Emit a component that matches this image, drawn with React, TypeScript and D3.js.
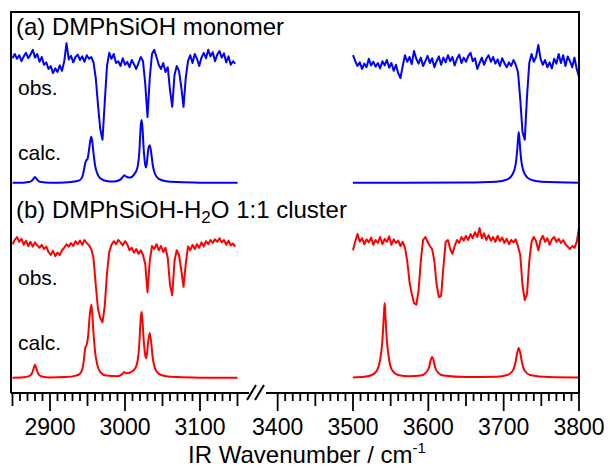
import React, { useEffect, useRef } from 'react'
import * as d3 from 'd3'

// wavenumber grids of the observed traces (3 cm-1 step)
const obsLeftStart = 2850
const obsRightStart = 3500
const obsStep = 3

// (a) monomer, observed, 2850-3147
const obsA_left = [
  0.03, 0.10, 0.02, 0.08, -0.02, 0.06, 0.12, 0.03, 0.09, 0.17,
  0.04, 0.10, -0.03, 0.05, -0.08, -0.04, -0.15, -0.10, -0.22, -0.14,
  -0.20, -0.09, -0.18, -0.02, 0.28, 0.01, 0.07, -0.04, 0.05, 0.09,
  0.00, 0.06, -0.03, 0.08, 0.02, 0.05, -0.04, -0.30, -0.75, -1.15,
  -1.33, -0.70, -0.10, 0.12, 0.02, 0.10, -0.05, -0.02, -0.10, 0.03,
  -0.08, -0.03, -0.12, 0.00, -0.07, -0.15, -0.05, 0.05, -0.02, -0.40,
  -0.95, -0.30, 0.10, 0.17, 0.05, -0.08, -0.15, -0.05, -0.20, -0.12,
  -0.50, -0.78, -0.25, -0.10, -0.18, -0.45, -0.78, -0.30, -0.02, 0.08,
  -0.05, 0.10, 0.02, -0.10, 0.04, 0.12, 0.03, 0.17, 0.06, 0.13,
  -0.02, 0.09, 0.15, 0.04, 0.11, -0.04, 0.06, -0.08, -0.02, -0.06
]

// (a) monomer, observed, 3500-3800
const obsA_right = [
  0.08, -0.02, -0.10, -0.04, -0.15, -0.06, -0.12, 0.02, -0.09, -0.03,
  -0.11, -0.05, -0.14, -0.02, -0.09, 0.00, -0.13, -0.05, -0.18, -0.08,
  -0.22, -0.30, -0.10, 0.08, -0.03, 0.05, -0.07, 0.15, 0.02, -0.06,
  0.04, -0.10, -0.02, 0.07, -0.05, 0.03, -0.12, -0.02, 0.06, -0.08,
  0.04, -0.04, 0.08, -0.02, 0.05, -0.09, 0.02, 0.09, -0.05, 0.04,
  -0.03, 0.07, 0.12, -0.02, 0.03, -0.15, -0.05, 0.04, -0.08, 0.02,
  0.08, -0.03, 0.05, -0.06, 0.01, -0.10, 0.03, -0.05, -0.12, -0.04,
  -0.10, 0.00, -0.08, -0.20, -0.65, -1.20, -1.33, -0.60, -0.05, 0.10,
  -0.03, 0.05, 0.25, 0.02, -0.08, 0.00, -0.12, -0.04, -0.14, 0.02,
  -0.06, 0.10, -0.05, 0.08, -0.10, 0.06, -0.02, -0.12, 0.04, -0.15,
  -0.28
]

// (b) 1:1 cluster, observed, 2850-3147
const obsB_left = [
  -0.02, 0.05, 0.10, 0.02, 0.07, -0.03, 0.04, -0.05, 0.02, -0.06,
  0.01, -0.04, -0.08, -0.03, -0.10, -0.06, -0.15, -0.20, -0.13, -0.22,
  -0.16, -0.20, -0.12, -0.08, -0.02, -0.06, 0.00, -0.05, 0.03, -0.02,
  0.04, -0.03, 0.05, 0.00, -0.04, -0.10, -0.25, -0.70, -1.10, -1.25,
  -1.32, -1.05, -0.50, -0.15, -0.03, 0.03, -0.02, 0.05, 0.01, -0.04,
  0.03, -0.02, -0.12, -0.08, -0.16, -0.10, -0.18, -0.12, -0.20, -0.35,
  -0.82, -0.30, -0.05, -0.10, -0.02, -0.12, -0.05, -0.15, -0.08, -0.25,
  -0.70, -0.87, -0.30, -0.12, -0.20, -0.45, -0.73, -0.35, -0.06, -0.12,
  -0.03, -0.10, -0.02, -0.08, 0.01, -0.06, 0.03, -0.02, 0.05, 0.00,
  0.06, 0.02, 0.08, 0.01, 0.05, -0.03, 0.04, -0.04, -0.01, -0.06
]

// (b) 1:1 cluster, observed, 3500-3800
const obsB_right = [
  -0.12, 0.03, 0.15, 0.02, 0.08, -0.02, 0.06, 0.01, 0.09, -0.03,
  0.05, 0.00, 0.10, -0.02, 0.07, 0.02, 0.11, -0.03, 0.06, 0.00,
  0.04, -0.05, 0.02, -0.08, -0.30, -0.65, -0.85, -1.00, -1.03, -0.80,
  -0.30, 0.05, 0.10, 0.02, -0.05, -0.10, -0.30, -0.70, -0.90, -0.88,
  -0.40, 0.02, 0.05, -0.10, -0.18, -0.05, 0.05, 0.00, 0.10, 0.04,
  0.12, 0.05, 0.15, 0.08, 0.18, 0.10, 0.25, 0.08, 0.16, 0.05,
  0.13, 0.04, 0.10, 0.02, 0.12, 0.03, 0.09, 0.00, 0.07, -0.02,
  0.05, 0.01, 0.06, -0.05, -0.20, -0.70, -0.95, -0.85, -0.30, 0.02,
  0.10, 0.03, -0.12, 0.05, 0.12, 0.02, 0.08, -0.03, 0.06, 0.10,
  0.02, 0.07, 0.00, 0.05, -0.02, -0.06, -0.10, -0.05, -0.08, 0.02,
  0.25
]

// calculated spectra [wavenumber, intensity]
const calcA_left = [
  [2850, 0.003], [2865, 0.006], [2872, 0.015], [2876, 0.04], [2878, 0.07], [2880, 0.1],
  [2882, 0.07], [2884, 0.04], [2888, 0.015], [2900, 0.006], [2920, 0.01], [2935, 0.03],
  [2940, 0.05], [2943, 0.1], [2945, 0.2], [2947, 0.33], [2948, 0.37], [2950, 0.4],
  [2952, 0.55], [2954, 0.73], [2955, 0.77], [2956, 0.72], [2958, 0.5], [2960, 0.3],
  [2963, 0.16], [2967, 0.08], [2975, 0.035], [2985, 0.025], [2993, 0.05], [2997, 0.1],
  [2999, 0.13], [3001, 0.11], [3003, 0.1], [3005, 0.09], [3009, 0.1], [3013, 0.16],
  [3015, 0.2], [3017, 0.28], [3019, 0.5], [3021, 0.95], [3022, 1.05], [3023, 0.97],
  [3025, 0.55], [3027, 0.3], [3028, 0.26], [3029, 0.32], [3031, 0.56], [3033, 0.63],
  [3035, 0.5], [3037, 0.3], [3040, 0.15], [3045, 0.07], [3055, 0.03], [3070, 0.015],
  [3100, 0.006], [3150, 0.003]
]
const calcA_right = [
  [3500, 0.003], [3650, 0.008], [3690, 0.02], [3705, 0.06], [3712, 0.15], [3716, 0.32],
  [3718, 0.55], [3719, 0.72], [3720, 0.85], [3721, 0.72], [3722, 0.55], [3724, 0.32],
  [3728, 0.15], [3735, 0.06], [3750, 0.02], [3800, 0.005]
]
const calcB_left = [
  [2850, 0.005], [2865, 0.012], [2872, 0.03], [2876, 0.08], [2878, 0.15], [2880, 0.22],
  [2882, 0.15], [2884, 0.08], [2888, 0.03], [2900, 0.01], [2920, 0.015], [2935, 0.04],
  [2940, 0.07], [2943, 0.14], [2945, 0.28], [2947, 0.5], [2949, 0.56], [2951, 0.72],
  [2953, 1.05], [2955, 1.22], [2956, 1.12], [2958, 0.75], [2960, 0.45], [2963, 0.22],
  [2967, 0.1], [2975, 0.04], [2990, 0.03], [2996, 0.06], [2999, 0.1], [3001, 0.08],
  [3004, 0.08], [3008, 0.1], [3013, 0.15], [3015, 0.2], [3017, 0.3], [3019, 0.55],
  [3021, 1.0], [3022, 1.1], [3023, 1.0], [3025, 0.62], [3027, 0.38], [3028, 0.33],
  [3029, 0.38], [3031, 0.62], [3033, 0.75], [3035, 0.58], [3037, 0.33], [3040, 0.16],
  [3045, 0.07], [3055, 0.03], [3070, 0.015], [3100, 0.006], [3150, 0.003]
]
const calcB_right = [
  [3500, 0.01], [3515, 0.02], [3525, 0.05], [3532, 0.13], [3536, 0.3], [3539, 0.62],
  [3541, 1.05], [3542, 1.25], [3543, 1.05], [3545, 0.62], [3548, 0.3], [3552, 0.13],
  [3560, 0.05], [3575, 0.03], [3590, 0.04], [3597, 0.09], [3601, 0.18], [3603, 0.29],
  [3605, 0.35], [3607, 0.29], [3609, 0.18], [3613, 0.09], [3620, 0.04], [3650, 0.015],
  [3690, 0.02], [3705, 0.05], [3712, 0.12], [3716, 0.28], [3718, 0.42], [3720, 0.5],
  [3722, 0.42], [3724, 0.28], [3728, 0.12], [3735, 0.05], [3760, 0.015], [3800, 0.008]
]

const leftLabels = [2900, 3000, 3100]
const rightLabels = [3400, 3500, 3600, 3700, 3800]

const width = 610
const height = 468
const frame = { left: 11, right: 579, top: 12, bottom: 393 }
const font = '"Liberation Sans", Arial, Helvetica, sans-serif'

export default function App() {
  const node = useRef(null)

  useEffect(() => {
    const svg = d3.select(node.current)
    svg.selectAll('*').remove()

    const xL = d3.scaleLinear().domain([2850, 3150]).range([12.5, 237.5])
    const xR = d3.scaleLinear().domain([3500, 3800]).range([353, 579])
    const y = d3.scaleLinear().domain([0, 6.35]).range([frame.bottom, frame.top])

    const offsets = { obsA: 5.55, calcA: 3.5, obsB: 2.5, calcB: 0.25 }

    const obsPoints = (vals, start) => vals.map((v, i) => [start + i * obsStep, v])

    const drawTrace = (pts, x, off, color, curve) => {
      const line = d3.line()
        .x(d => x(d[0]))
        .y(d => y(off + d[1]))
        .curve(curve)
      svg.append('path')
        .datum(pts)
        .attr('d', line)
        .attr('fill', 'none')
        .attr('stroke', color)
        .attr('stroke-width', 2)
        .attr('stroke-linejoin', 'round')
    }

    const blue = '#0000ff'
    const red = '#ff0000'
    drawTrace(obsPoints(obsA_left, obsLeftStart), xL, offsets.obsA, blue, d3.curveLinear)
    drawTrace(obsPoints(obsA_right, obsRightStart), xR, offsets.obsA, blue, d3.curveLinear)
    drawTrace(calcA_left, xL, offsets.calcA, blue, d3.curveMonotoneX)
    drawTrace(calcA_right, xR, offsets.calcA, blue, d3.curveMonotoneX)
    drawTrace(obsPoints(obsB_left, obsLeftStart), xL, offsets.obsB, red, d3.curveLinear)
    drawTrace(obsPoints(obsB_right, obsRightStart), xR, offsets.obsB, red, d3.curveLinear)
    drawTrace(calcB_left, xL, offsets.calcB, red, d3.curveMonotoneX)
    drawTrace(calcB_right, xR, offsets.calcB, red, d3.curveMonotoneX)

    // frame (top, left, right)
    svg.append('path')
      .attr('d', `M${frame.left},${frame.bottom}V${frame.top}H${frame.right}V${frame.bottom}`)
      .attr('fill', 'none')
      .attr('stroke', '#000')
      .attr('stroke-width', 2)

    // broken bottom axis
    const axisG = svg.append('g').attr('stroke', '#000').attr('stroke-width', 2)
    axisG.append('line').attr('x1', frame.left).attr('x2', 249)
      .attr('y1', frame.bottom).attr('y2', frame.bottom)
    axisG.append('line').attr('x1', 266).attr('x2', frame.right)
      .attr('y1', frame.bottom).attr('y2', frame.bottom)
    axisG.append('line').attr('x1', 247).attr('y1', 400).attr('x2', 256).attr('y2', 385)
    axisG.append('line').attr('x1', 255).attr('y1', 400).attr('x2', 264).attr('y2', 385)

    const tickLen = v => (v % 100 === 0 ? 18 : v % 50 === 0 ? 13 : 8)
    const ticks = [
      ...d3.range(2850, 3151, 10).map(v => [v, xL]),
      ...d3.range(3400, 3801, 10).map(v => [v, xR])
    ]
    axisG.selectAll('line.tick')
      .data(ticks)
      .join('line')
      .attr('class', 'tick')
      .attr('x1', d => d[1](d[0]))
      .attr('x2', d => d[1](d[0]))
      .attr('y1', frame.bottom)
      .attr('y2', d => frame.bottom + tickLen(d[0]))
      .attr('stroke-width', 1.8)

    const labels = [
      ...leftLabels.map(v => [v, xL]),
      ...rightLabels.map(v => [v, xR])
    ]
    svg.append('g')
      .selectAll('text')
      .data(labels)
      .join('text')
      .attr('x', d => d[1](d[0]))
      .attr('y', 435)
      .attr('text-anchor', 'middle')
      .attr('font-family', font)
      .attr('font-size', 23)
      .text(d => d[0])

    const title = svg.append('text')
      .attr('x', 307)
      .attr('y', 463)
      .attr('text-anchor', 'middle')
      .attr('font-family', font)
      .attr('font-size', 24)
    title.append('tspan').text('IR Wavenumber / cm')
    title.append('tspan').attr('font-size', 15).attr('dy', -10).text('-1')

    const txt = (x, yy, s, size) => svg.append('text')
      .attr('x', x).attr('y', yy)
      .attr('font-family', font)
      .attr('font-size', size)
      .text(s)

    txt(16, 35, '(a) DMPhSiOH monomer', 24)
    const b = svg.append('text')
      .attr('x', 16).attr('y', 218)
      .attr('font-family', font)
      .attr('font-size', 24)
    b.append('tspan').text('(b) DMPhSiOH-H')
    b.append('tspan').attr('font-size', 17).attr('dy', 5).text('2')
    b.append('tspan').attr('dy', -5).text('O 1:1 cluster')

    txt(18, 95, 'obs.', 21)
    txt(18, 160, 'calc.', 21)
    txt(18, 285, 'obs.', 21)
    txt(18, 350, 'calc.', 21)
  }, [])

  return (
    <svg ref={node} width={width} height={height}
      style={{ position: 'absolute', left: 0, top: 0, background: '#fff' }} />
  )
}
